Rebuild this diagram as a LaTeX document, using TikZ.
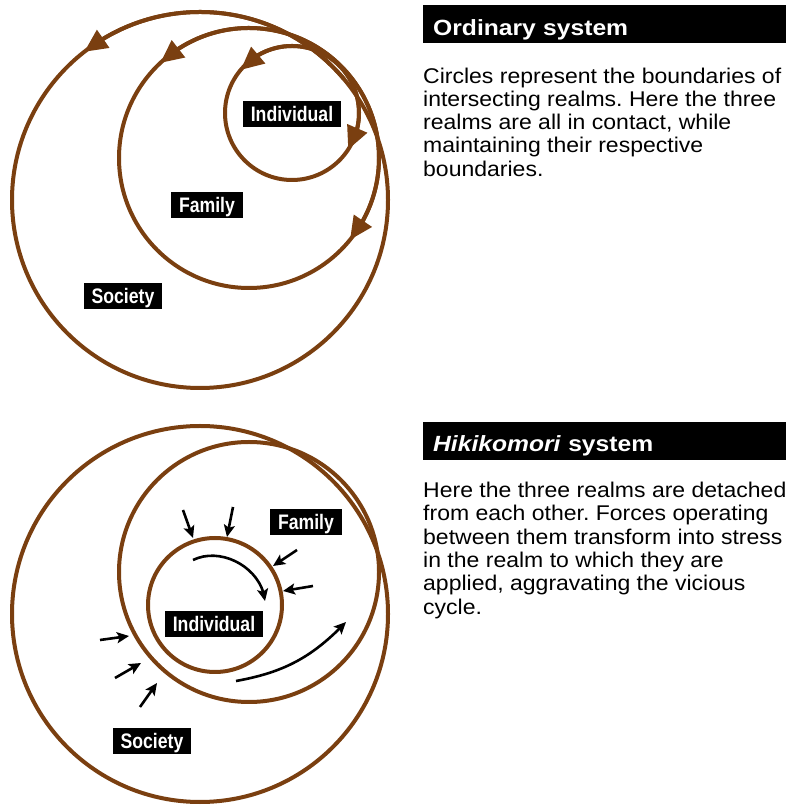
\documentclass[tikz,border=0pt]{standalone}
\usepackage{fontspec}
\setmainfont{Liberation Sans}
\newfontfamily\bodyfont[FakeStretch=1.08]{Liberation Sans}
\newfontfamily\headfont[FakeStretch=1.12]{Liberation Sans}
\newfontfamily\tagfont[FakeStretch=0.84]{Liberation Sans}
\usetikzlibrary{positioning,arrows.meta,bending}
\definecolor{realmbrown}{RGB}{122,63,16}
\tikzstyle{ring} = [draw=realmbrown,line width=4pt]
\tikzstyle{ringarrow} = [ring,-{Triangle[length=23pt,width=21pt]}]
\tikzstyle{push} = [draw=black,line width=2.6pt,-{Stealth[length=12pt,width=11pt,inset=2.5pt]}]
\tikzstyle{lbl} = [rectangle,fill=black,text=white,font=\tagfont\bfseries\fontsize{21}{21}\selectfont,inner xsep=8pt,inner ysep=5.5pt,text height=15pt,text depth=0pt]
\tikzstyle{headbar} = [rectangle,fill=black,text=white,font=\headfont\bfseries\fontsize{22}{22}\selectfont,minimum width=363pt,minimum height=38pt,text width=343pt,inner xsep=10pt,inner ysep=0pt,align=left,text depth=0pt]
\tikzstyle{blurb} = [align=left,inner sep=0pt,font=\bodyfont\fontsize{21.3}{23.3}\selectfont]
\frenchspacing

\begin{document}
\begin{tikzpicture}[x=1pt,y=1pt]
	\useasboundingbox (0,0) rectangle (786,805);
	
	% ordinary system
	\coordinate (socA) at (200,605);
	\coordinate (famA) at (249,647);
	\coordinate (indA) at (292,692);
	\draw[ring] (socA) circle[radius=188];
	\draw[ring] (famA) circle[radius=130];
	\draw[ring] (indA) circle[radius=67];
	
	\draw[ringarrow] (socA) ++(40:188) arc[start angle=40,end angle=128,radius=188];
	\draw[ringarrow] (famA) ++(42:130) arc[start angle=42,end angle=133,radius=130];
	\draw[ringarrow] (famA) ++(42:130) arc[start angle=42,end angle=-39,radius=130];
	\draw[ringarrow] (indA) ++(45:67) arc[start angle=45,end angle=140,radius=67];
	\draw[ringarrow] (indA) ++(45:67) arc[start angle=45,end angle=-33,radius=67];
	
	\node[lbl] (indtagA) at (292,691) {Individual};
	\node[lbl] (famtagA) at (207,600) {Family};
	\node[lbl] (soctagA) at (123,509) {Society};
	
	\node[headbar,anchor=north west,text height=22pt] (headA) at (423,800) {Ordinary system};
	\node[blurb,below=24pt of headA.south west,anchor=north west] (textA) {Circles represent the boundaries of\\intersecting realms. Here the three\\realms are all in contact, while\\maintaining their respective\\boundaries.};
	
	% hikikomori system
	\coordinate (socB) at (200,191);
	\coordinate (famB) at (249,233);
	\coordinate (indB) at (215,200);
	\draw[ring] (socB) circle[radius=188];
	\draw[ring] (famB) circle[radius=130];
	\draw[ring] (indB) circle[radius=67];
	
	\coordinate (p1a) at (183,295);
	\coordinate (p1b) at (193,267);
	\draw[push] (p1a) -- (p1b);
	\coordinate (p2a) at (233,298);
	\coordinate (p2b) at (227,268);
	\draw[push] (p2a) -- (p2b);
	\coordinate (p3a) at (297,255);
	\coordinate (p3b) at (273,239);
	\draw[push] (p3a) -- (p3b);
	\coordinate (p4a) at (313,219);
	\coordinate (p4b) at (283,214);
	\draw[push] (p4a) -- (p4b);
	\coordinate (p5a) at (100,165);
	\coordinate (p5b) at (129,169);
	\draw[push] (p5a) -- (p5b);
	\coordinate (p6a) at (115,127);
	\coordinate (p6b) at (141,142);
	\draw[push] (p6a) -- (p6b);
	\coordinate (p7a) at (140,98);
	\coordinate (p7b) at (157,122);
	\draw[push] (p7a) -- (p7b);
	
	\coordinate (swirlA) at (193,245);
	\coordinate (swirlB) at (265,204);
	\draw[push] (swirlA) to[out=26,in=95] (swirlB);
	\coordinate (sweepA) at (236,124);
	\coordinate (sweepB) at (346,183);
	\draw[push] (sweepA) to[bend right=18] (sweepB);
	
	\node[lbl] (famtagB) at (306,283) {Family};
	\node[lbl] (indtagB) at (214,181) {Individual};
	\node[lbl] (soctagB) at (152,64) {Society};
	
	\node[headbar,anchor=north west,text height=20pt] (headB) at (423,383) {\textit{Hikikomori} system};
	\node[blurb,below=21.5pt of headB.south west,anchor=north west] (textB) {Here the three realms are detached\\from each other. Forces operating\\between them transform into stress\\in the realm to which they are\\applied, aggravating the vicious\\cycle.};
	
\end{tikzpicture}
\end{document}
